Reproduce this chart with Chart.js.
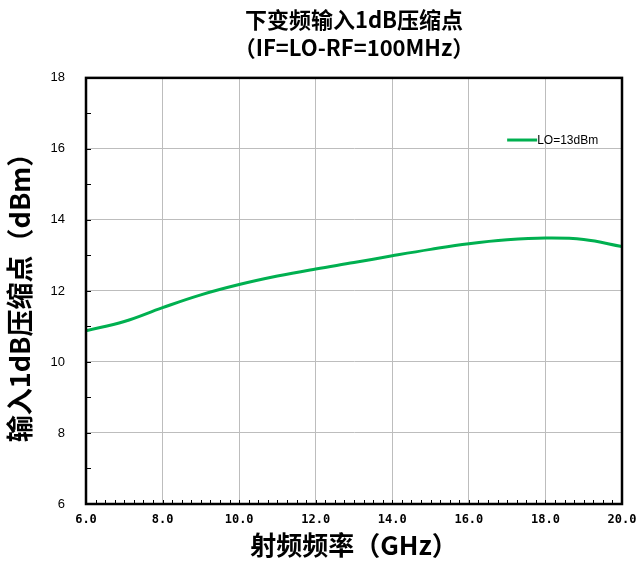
<!DOCTYPE html>
<html>
<head>
<meta charset="utf-8">
<script src="https://cdn.jsdelivr.net/npm/chart.js@4.4.1/dist/chart.umd.min.js"></script>
<style>
  html, body { margin: 0; padding: 0; background: #fff; }
  #wrap { width: 636px; height: 561px; }
</style>
</head>
<body>
<div id="wrap"><canvas id="chart" width="636" height="561"></canvas></div>
<script>
'use strict'

// RF frequency (GHz) vs input P1dB (dBm)
const freqGHz = [6, 7, 8, 9, 10, 11, 12, 13, 14, 15, 16, 17, 18, 19, 20]
const p1dB = [10.88, 11.14, 11.53, 11.89, 12.18, 12.42, 12.62, 12.8, 12.99, 13.17, 13.33, 13.44, 13.49, 13.45, 13.25]
const seriesName = 'LO=13dBm'
const titleLines = ['下变频输入1dB压缩点', '（IF=LO-RF=100MHz）']
const xTitle = '射频频率（GHz）'
const yTitle = '输入1dB压缩点（dBm）'

const CJK = '"Noto Sans CJK SC", "Noto Sans", sans-serif'
const GREEN = '#00b050'

// frame, inward minor ticks and the in-plot legend
const framePlugin = {
  id: 'frame',
  afterDraw: chart => {
    const { ctx, chartArea: a, scales } = chart
    ctx.save()
    ctx.strokeStyle = '#000'
    ctx.lineWidth = 1
    ctx.beginPath()
    for (let v = 6.25; v < 20; v += 0.25) {
      const x = Math.round(scales.x.getPixelForValue(v)) + 0.5
      ctx.moveTo(x, a.bottom)
      ctx.lineTo(x, a.bottom - 4)
    }
    for (let v = 7; v < 18; v += 1) {
      const y = Math.round(scales.y.getPixelForValue(v)) + 0.5
      ctx.moveTo(a.left, y)
      ctx.lineTo(a.left + 5, y)
    }
    ctx.stroke()

    ctx.lineWidth = 2.5
    ctx.strokeRect(a.left, a.top, a.right - a.left, a.bottom - a.top)

    // legend
    const ly = scales.y.getPixelForValue(16.25)
    const lx = scales.x.getPixelForValue(17.0)
    ctx.strokeStyle = GREEN
    ctx.lineWidth = 3
    ctx.beginPath()
    ctx.moveTo(lx, ly)
    ctx.lineTo(lx + 30, ly)
    ctx.stroke()
    ctx.fillStyle = '#000'
    ctx.font = '12px "Liberation Sans", Arial, sans-serif'
    ctx.textBaseline = 'middle'
    ctx.fillText(seriesName, lx + 30, ly + 1)
    ctx.restore()
  }
}

const chart = new Chart(document.getElementById('chart').getContext('2d'), {
  type: 'line',
  data: {
    datasets: [{
      label: seriesName,
      data: freqGHz.map((f, i) => ({ x: f, y: p1dB[i] })),
      borderColor: GREEN,
      borderWidth: 3,
      pointRadius: 0,
      tension: 0.4,
      fill: false
    }]
  },
  options: {
    responsive: false,
    animation: false,
    layout: { padding: { top: 0, right: 14, bottom: 0, left: 0 } },
    plugins: {
      legend: { display: false },
      tooltip: { enabled: false },
      title: {
        display: true,
        fullSize: false,
        text: titleLines,
        color: '#000',
        font: { family: CJK, size: 22, weight: 'bold', lineHeight: 1.27 },
        padding: { top: 6, bottom: 16 }
      }
    },
    scales: {
      x: {
        type: 'linear',
        min: 6,
        max: 20,
        afterFit: s => {
          s.height = 57
          s.paddingLeft = 0
          s.paddingRight = 0
        },
        grid: { color: '#bdbdbd', lineWidth: 1, drawTicks: false },
        border: { display: true, color: '#000', width: 2 },
        ticks: {
          stepSize: 2,
          padding: 9,
          color: '#000',
          font: { family: '"DejaVu Sans Mono", monospace', size: 12, weight: 'bold' },
          callback: v => v.toFixed(1)
        },
        title: {
          display: true,
          text: xTitle,
          color: '#000',
          font: { family: CJK, size: 26, weight: 'bold' },
          padding: { top: 0, bottom: 0 }
        }
      },
      y: {
        min: 6,
        max: 18,
        afterFit: s => { s.width = 86 },
        grid: { color: '#bdbdbd', lineWidth: 1, drawTicks: false },
        border: { display: true, color: '#000', width: 2 },
        ticks: {
          stepSize: 2,
          padding: 21,
          color: '#000',
          font: { family: '"Liberation Sans", Arial, sans-serif', size: 13 }
        },
        title: {
          display: true,
          text: yTitle,
          color: '#000',
          font: { family: CJK, size: 27, weight: 'bold' },
          padding: { top: 4, bottom: 0 }
        }
      }
    }
  },
  plugins: [framePlugin]
})
</script>
</body>
</html>
